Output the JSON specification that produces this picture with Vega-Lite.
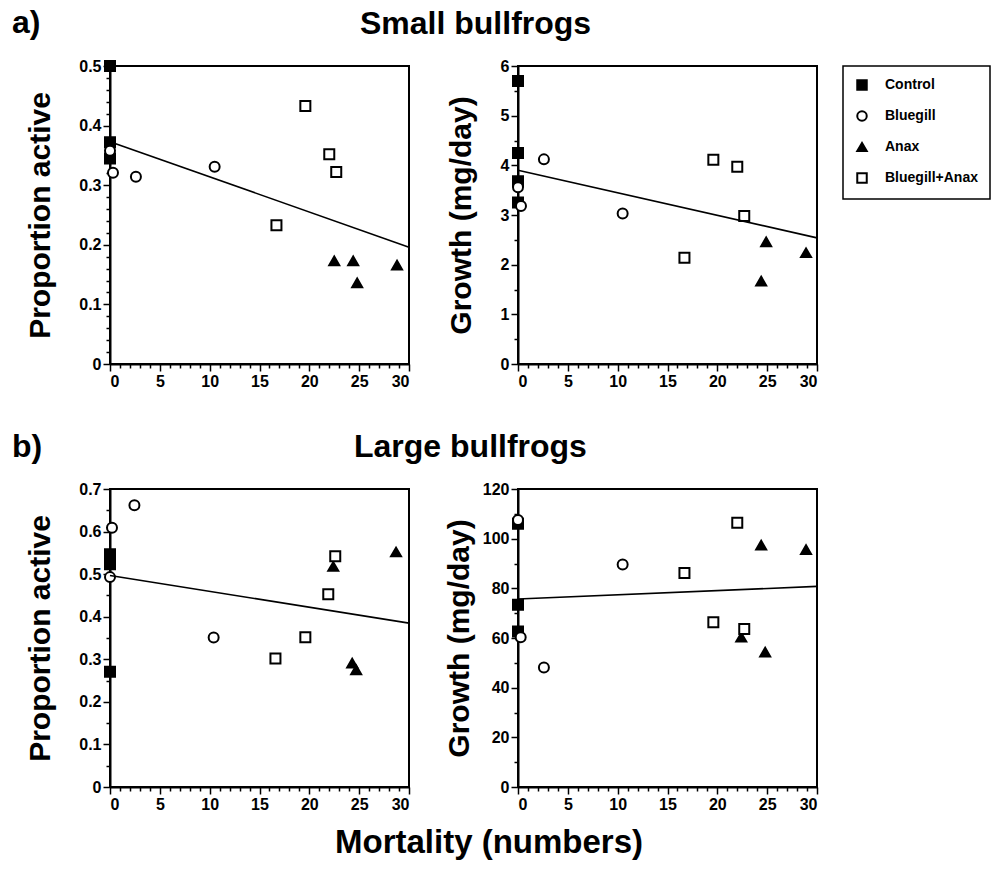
{
  "$schema": "https://vega.github.io/schema/vega-lite/v6.json",
  "background": "white",
  "padding": {"left": 11, "top": 6, "right": 0, "bottom": 6},
  "title": {"text": "Mortality (numbers)", "orient": "bottom", "anchor": "start", "frame": "group", "fontSize": 33, "font": "Liberation Sans", "fontWeight": "bold", "offset": 14, "dx": 225, "color": "black"},
  "config": {
    "font": "Liberation Sans",
    "view": {"stroke": "black", "strokeWidth": 2},
    "title": {"anchor": "start", "frame": "group", "fontSize": 32, "font": "Liberation Sans", "fontWeight": "bold", "color": "black", "offset": 17},
    "axis": {"domainColor": "black", "domainWidth": 2, "tickColor": "black", "tickWidth": 1.5, "labelFont": "Liberation Sans", "labelFontWeight": "bold", "labelFontSize": 16, "labelColor": "black", "labelPadding": 2, "grid": false, "titleFont": "Liberation Sans", "titleFontWeight": "bold", "titleFontSize": 30, "titleColor": "black", "labelOverlap": false},
    "legend": {"title": null, "orient": "none", "legendX": 733, "legendY": 0, "strokeColor": "black", "strokeWidth": 1.5, "padding": 12, "rowPadding": 13, "labelFont": "Liberation Sans", "labelFontWeight": "bold", "labelFontSize": 14, "labelColor": "black", "labelOffset": 16, "symbolSize": 90, "symbolStrokeWidth": 2}
  },
  "datasets": {
    "pts": [
      {"panel": "sa", "treatment": "Control", "mortality": 0, "value": 0.5},
      {"panel": "sa", "treatment": "Control", "mortality": 0, "value": 0.372},
      {"panel": "sa", "treatment": "Control", "mortality": 0, "value": 0.345},
      {"panel": "sa", "treatment": "Bluegill", "mortality": 0, "value": 0.358},
      {"panel": "sa", "treatment": "Bluegill", "mortality": 0.3, "value": 0.321},
      {"panel": "sa", "treatment": "Bluegill", "mortality": 2.6, "value": 0.314},
      {"panel": "sa", "treatment": "Bluegill", "mortality": 10.5, "value": 0.331},
      {"panel": "sa", "treatment": "Anax", "mortality": 22.5, "value": 0.173},
      {"panel": "sa", "treatment": "Anax", "mortality": 24.4, "value": 0.173},
      {"panel": "sa", "treatment": "Anax", "mortality": 24.8, "value": 0.136},
      {"panel": "sa", "treatment": "Anax", "mortality": 28.8, "value": 0.166},
      {"panel": "sa", "treatment": "Bluegill+Anax", "mortality": 16.7, "value": 0.233},
      {"panel": "sa", "treatment": "Bluegill+Anax", "mortality": 19.6, "value": 0.433},
      {"panel": "sa", "treatment": "Bluegill+Anax", "mortality": 22.0, "value": 0.352},
      {"panel": "sa", "treatment": "Bluegill+Anax", "mortality": 22.7, "value": 0.322},
      {"panel": "sg", "treatment": "Control", "mortality": 0, "value": 5.7},
      {"panel": "sg", "treatment": "Control", "mortality": 0, "value": 4.25},
      {"panel": "sg", "treatment": "Control", "mortality": 0, "value": 3.68},
      {"panel": "sg", "treatment": "Control", "mortality": 0, "value": 3.25},
      {"panel": "sg", "treatment": "Bluegill", "mortality": 0, "value": 3.56},
      {"panel": "sg", "treatment": "Bluegill", "mortality": 0.3, "value": 3.18},
      {"panel": "sg", "treatment": "Bluegill", "mortality": 2.6, "value": 4.12},
      {"panel": "sg", "treatment": "Bluegill", "mortality": 10.5, "value": 3.03},
      {"panel": "sg", "treatment": "Anax", "mortality": 24.9, "value": 2.46},
      {"panel": "sg", "treatment": "Anax", "mortality": 24.4, "value": 1.67},
      {"panel": "sg", "treatment": "Anax", "mortality": 28.9, "value": 2.24},
      {"panel": "sg", "treatment": "Bluegill+Anax", "mortality": 16.7, "value": 2.14},
      {"panel": "sg", "treatment": "Bluegill+Anax", "mortality": 19.6, "value": 4.11},
      {"panel": "sg", "treatment": "Bluegill+Anax", "mortality": 22.0, "value": 3.97},
      {"panel": "sg", "treatment": "Bluegill+Anax", "mortality": 22.7, "value": 2.98},
      {"panel": "la", "treatment": "Control", "mortality": 0, "value": 0.547},
      {"panel": "la", "treatment": "Control", "mortality": 0, "value": 0.523},
      {"panel": "la", "treatment": "Control", "mortality": 0, "value": 0.271},
      {"panel": "la", "treatment": "Bluegill", "mortality": 0.2, "value": 0.609},
      {"panel": "la", "treatment": "Bluegill", "mortality": 2.45, "value": 0.662},
      {"panel": "la", "treatment": "Bluegill", "mortality": 0, "value": 0.493},
      {"panel": "la", "treatment": "Bluegill", "mortality": 10.4, "value": 0.351},
      {"panel": "la", "treatment": "Anax", "mortality": 22.4, "value": 0.518},
      {"panel": "la", "treatment": "Anax", "mortality": 28.7, "value": 0.552},
      {"panel": "la", "treatment": "Anax", "mortality": 24.3, "value": 0.291},
      {"panel": "la", "treatment": "Anax", "mortality": 24.7, "value": 0.275},
      {"panel": "la", "treatment": "Bluegill+Anax", "mortality": 16.6, "value": 0.302},
      {"panel": "la", "treatment": "Bluegill+Anax", "mortality": 19.6, "value": 0.352},
      {"panel": "la", "treatment": "Bluegill+Anax", "mortality": 21.9, "value": 0.453},
      {"panel": "la", "treatment": "Bluegill+Anax", "mortality": 22.6, "value": 0.542},
      {"panel": "lg", "treatment": "Control", "mortality": 0, "value": 106},
      {"panel": "lg", "treatment": "Control", "mortality": 0, "value": 73.4},
      {"panel": "lg", "treatment": "Control", "mortality": 0, "value": 62.6},
      {"panel": "lg", "treatment": "Bluegill", "mortality": 0, "value": 107.5},
      {"panel": "lg", "treatment": "Bluegill", "mortality": 0.27, "value": 60.3},
      {"panel": "lg", "treatment": "Bluegill", "mortality": 2.6, "value": 48.1},
      {"panel": "lg", "treatment": "Bluegill", "mortality": 10.5, "value": 89.6},
      {"panel": "lg", "treatment": "Anax", "mortality": 24.4, "value": 97.4},
      {"panel": "lg", "treatment": "Anax", "mortality": 28.9, "value": 95.6},
      {"panel": "lg", "treatment": "Anax", "mortality": 22.4, "value": 60.3},
      {"panel": "lg", "treatment": "Anax", "mortality": 24.8, "value": 54.3},
      {"panel": "lg", "treatment": "Bluegill+Anax", "mortality": 22.0, "value": 106.4},
      {"panel": "lg", "treatment": "Bluegill+Anax", "mortality": 16.7, "value": 86.2},
      {"panel": "lg", "treatment": "Bluegill+Anax", "mortality": 19.6, "value": 66.3},
      {"panel": "lg", "treatment": "Bluegill+Anax", "mortality": 22.7, "value": 63.6}
    ],
    "fit": [
      {"panel": "sa", "mortality": 0, "value": 0.373},
      {"panel": "sa", "mortality": 30, "value": 0.196},
      {"panel": "sg", "mortality": 0, "value": 3.9},
      {"panel": "sg", "mortality": 30, "value": 2.54},
      {"panel": "la", "mortality": 0, "value": 0.497},
      {"panel": "la", "mortality": 30, "value": 0.385},
      {"panel": "lg", "mortality": 0, "value": 75.7},
      {"panel": "lg", "mortality": 30, "value": 80.8}
    ]
  },
  "columns": 2,
  "bounds": "flush",
  "spacing": {"row": 125, "column": 109},
  "concat": [
    {
      "width": 299, "height": 298,
      "title": {"text": "a)", "dx": -98},
      "encoding": {
        "x": {"field": "mortality", "type": "quantitative", "scale": {"domain": [0, 30], "nice": false}, "axis": {"title": null, "values": [0,1,2,3,4,5,6,7,8,9,10,11,12,13,14,15,16,17,18,19,20,21,22,23,24,25,26,27,28,29,30], "labelExpr": "datum.value % 5 === 0 ? datum.label : ''", "tickSize": {"condition": {"test": "datum.value % 5 === 0", "value": 7}, "value": 4}}},
        "y": {"field": "value", "type": "quantitative", "scale": {"domain": [0, 0.5], "nice": false}, "axis": {"title": "Proportion active", "titlePadding": 23, "values": [0,0.02,0.04,0.06,0.08,0.1,0.12,0.14,0.16,0.18,0.2,0.22,0.24,0.26,0.28,0.3,0.32,0.34,0.36,0.38,0.4,0.42,0.44,0.46,0.48,0.5], "labelExpr": "abs(datum.value*10 - round(datum.value*10)) < 0.001 ? (datum.value === 0 ? '0' : format(datum.value, '.1f')) : ''", "tickSize": {"condition": {"test": "abs(datum.value*10 - round(datum.value*10)) < 0.001", "value": 7}, "value": 4}}}
      },
      "layer": [
        {"data": {"name": "pts"}, "transform": [{"filter": "datum.panel === 'sa'"}],
         "mark": {"type": "point", "strokeWidth": 2, "size": 100, "opacity": 1, "fillOpacity": 1, "strokeOpacity": 1},
         "encoding": {
           "shape": {"field": "treatment", "type": "nominal", "scale": {"domain": ["Control", "Bluegill", "Anax", "Bluegill+Anax"], "range": ["square", "circle", "triangle-up", "square"]}},
           "fill": {"field": "treatment", "type": "nominal", "scale": {"domain": ["Control", "Bluegill", "Anax", "Bluegill+Anax"], "range": ["black", "white", "black", "white"]}},
           "stroke": {"field": "treatment", "type": "nominal", "scale": {"domain": ["Control", "Bluegill", "Anax", "Bluegill+Anax"], "range": ["black", "black", "black", "black"]}}
         }},
        {"data": {"name": "fit"}, "transform": [{"filter": "datum.panel === 'sa'"}],
         "mark": {"type": "line", "color": "black", "strokeWidth": 1.6}, "encoding": {}}
      ]
    },
    {
      "width": 299, "height": 298,
      "title": {"text": "Small bullfrogs", "dx": -158},
      "encoding": {
        "x": {"field": "mortality", "type": "quantitative", "scale": {"domain": [0, 30], "nice": false}, "axis": {"title": null, "values": [0,1,2,3,4,5,6,7,8,9,10,11,12,13,14,15,16,17,18,19,20,21,22,23,24,25,26,27,28,29,30], "labelExpr": "datum.value % 5 === 0 ? datum.label : ''", "tickSize": {"condition": {"test": "datum.value % 5 === 0", "value": 7}, "value": 4}}},
        "y": {"field": "value", "type": "quantitative", "scale": {"domain": [0, 6], "nice": false}, "axis": {"title": "Growth (mg/day)", "titlePadding": 24, "values": [0,0.5,1,1.5,2,2.5,3,3.5,4,4.5,5,5.5,6], "labelExpr": "datum.value % 1 === 0 ? format(datum.value, 'd') : ''", "tickSize": {"condition": {"test": "datum.value % 1 === 0", "value": 7}, "value": 4}}}
      },
      "layer": [
        {"data": {"name": "pts"}, "transform": [{"filter": "datum.panel === 'sg'"}],
         "mark": {"type": "point", "strokeWidth": 2, "size": 100, "opacity": 1, "fillOpacity": 1, "strokeOpacity": 1},
         "encoding": {
           "shape": {"field": "treatment", "type": "nominal", "scale": {"domain": ["Control", "Bluegill", "Anax", "Bluegill+Anax"], "range": ["square", "circle", "triangle-up", "square"]}},
           "fill": {"field": "treatment", "type": "nominal", "scale": {"domain": ["Control", "Bluegill", "Anax", "Bluegill+Anax"], "range": ["black", "white", "black", "white"]}},
           "stroke": {"field": "treatment", "type": "nominal", "scale": {"domain": ["Control", "Bluegill", "Anax", "Bluegill+Anax"], "range": ["black", "black", "black", "black"]}}
         }},
        {"data": {"name": "fit"}, "transform": [{"filter": "datum.panel === 'sg'"}],
         "mark": {"type": "line", "color": "black", "strokeWidth": 1.6}, "encoding": {}}
      ]
    },
    {
      "width": 299, "height": 298,
      "title": {"text": "b)", "dx": -98},
      "encoding": {
        "x": {"field": "mortality", "type": "quantitative", "scale": {"domain": [0, 30], "nice": false}, "axis": {"title": null, "values": [0,1,2,3,4,5,6,7,8,9,10,11,12,13,14,15,16,17,18,19,20,21,22,23,24,25,26,27,28,29,30], "labelExpr": "datum.value % 5 === 0 ? datum.label : ''", "tickSize": {"condition": {"test": "datum.value % 5 === 0", "value": 7}, "value": 4}}},
        "y": {"field": "value", "type": "quantitative", "scale": {"domain": [0, 0.7], "nice": false}, "axis": {"title": "Proportion active", "titlePadding": 23, "values": [0,0.05,0.1,0.15,0.2,0.25,0.3,0.35,0.4,0.45,0.5,0.55,0.6,0.65,0.7], "labelExpr": "abs(datum.value*10 - round(datum.value*10)) < 0.001 ? (datum.value === 0 ? '0' : format(datum.value, '.1f')) : ''", "tickSize": {"condition": {"test": "abs(datum.value*10 - round(datum.value*10)) < 0.001", "value": 7}, "value": 4}}}
      },
      "layer": [
        {"data": {"name": "pts"}, "transform": [{"filter": "datum.panel === 'la'"}],
         "mark": {"type": "point", "strokeWidth": 2, "size": 100, "opacity": 1, "fillOpacity": 1, "strokeOpacity": 1},
         "encoding": {
           "shape": {"field": "treatment", "type": "nominal", "scale": {"domain": ["Control", "Bluegill", "Anax", "Bluegill+Anax"], "range": ["square", "circle", "triangle-up", "square"]}},
           "fill": {"field": "treatment", "type": "nominal", "scale": {"domain": ["Control", "Bluegill", "Anax", "Bluegill+Anax"], "range": ["black", "white", "black", "white"]}},
           "stroke": {"field": "treatment", "type": "nominal", "scale": {"domain": ["Control", "Bluegill", "Anax", "Bluegill+Anax"], "range": ["black", "black", "black", "black"]}}
         }},
        {"data": {"name": "fit"}, "transform": [{"filter": "datum.panel === 'la'"}],
         "mark": {"type": "line", "color": "black", "strokeWidth": 1.6}, "encoding": {}}
      ]
    },
    {
      "width": 299, "height": 298,
      "title": {"text": "Large bullfrogs", "dx": -164},
      "encoding": {
        "x": {"field": "mortality", "type": "quantitative", "scale": {"domain": [0, 30], "nice": false}, "axis": {"title": null, "values": [0,1,2,3,4,5,6,7,8,9,10,11,12,13,14,15,16,17,18,19,20,21,22,23,24,25,26,27,28,29,30], "labelExpr": "datum.value % 5 === 0 ? datum.label : ''", "tickSize": {"condition": {"test": "datum.value % 5 === 0", "value": 7}, "value": 4}}},
        "y": {"field": "value", "type": "quantitative", "scale": {"domain": [0, 120], "nice": false}, "axis": {"title": "Growth (mg/day)", "titlePadding": 8, "values": [0,10,20,30,40,50,60,70,80,90,100,110,120], "labelExpr": "datum.value % 20 === 0 ? format(datum.value, 'd') : ''", "tickSize": {"condition": {"test": "datum.value % 20 === 0", "value": 7}, "value": 4}}}
      },
      "layer": [
        {"data": {"name": "pts"}, "transform": [{"filter": "datum.panel === 'lg'"}],
         "mark": {"type": "point", "strokeWidth": 2, "size": 100, "opacity": 1, "fillOpacity": 1, "strokeOpacity": 1},
         "encoding": {
           "shape": {"field": "treatment", "type": "nominal", "scale": {"domain": ["Control", "Bluegill", "Anax", "Bluegill+Anax"], "range": ["square", "circle", "triangle-up", "square"]}},
           "fill": {"field": "treatment", "type": "nominal", "scale": {"domain": ["Control", "Bluegill", "Anax", "Bluegill+Anax"], "range": ["black", "white", "black", "white"]}},
           "stroke": {"field": "treatment", "type": "nominal", "scale": {"domain": ["Control", "Bluegill", "Anax", "Bluegill+Anax"], "range": ["black", "black", "black", "black"]}}
         }},
        {"data": {"name": "fit"}, "transform": [{"filter": "datum.panel === 'lg'"}],
         "mark": {"type": "line", "color": "black", "strokeWidth": 1.6}, "encoding": {}}
      ]
    }
  ]
}
